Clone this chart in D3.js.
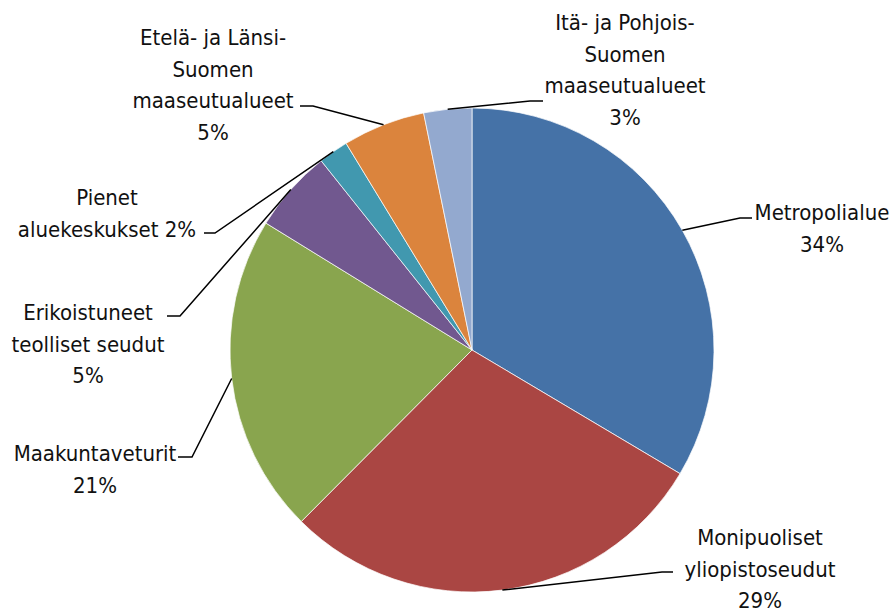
<!DOCTYPE html>
<html>
<head>
<meta charset="utf-8">
<script src="https://cdn.jsdelivr.net/npm/d3@7"></script>
<style>
  body { margin: 0; background: #fff; }
  text { font-family: "Liberation Sans Narrow", "DejaVu Sans Condensed", "Roboto", sans-serif; font-size: 22px; fill: #111; }
</style>
</head>
<body>
<div id="chart"></div>
<script>
// data
var categories = [
  "Metropolialue",
  "Monipuoliset\nyliopistoseudut",
  "Maakuntaveturit",
  "Erikoistuneet\nteolliset seudut",
  "Pienet\naluekeskukset",
  "Etelä- ja Länsi-\nSuomen\nmaaseutualueet",
  "Itä- ja Pohjois-\nSuomen\nmaaseutualueet"
];
var values = [33.5, 28.9, 21.3, 5.5, 2.0, 5.5, 3.2];
var percentLabels = ["34%", "29%", "21%", "5%", "2%", "5%", "3%"];
// whether the percent sits on the last text line
var inlinePct = [false, false, false, false, true, false, false];

var colors = ["#4572A7", "#AA4643", "#89A54E", "#71588F", "#4198AF", "#DB843D", "#93A9CF"];

// label layout: text centre x, first line y, elbow, end of leader
var labelLayout = [
  { cx: 822, y: 212, elbow: [740, 218], end: [752, 218] },
  { cx: 760, y: 537, elbow: [662, 572], end: [673, 572] },
  { cx: 95,  y: 453, elbow: [192, 457], end: [178, 457] },
  { cx: 88,  y: 312, elbow: [180, 316], end: [167, 316] },
  { cx: 107, y: 197, elbow: [215, 233], end: [204, 233] },
  { cx: 213, y: 37,  elbow: [313, 106], end: [300, 106] },
  { cx: 625, y: 22,  elbow: [530, 101], end: [543, 101] }
];

var width = 894, height = 615;
var cx = 472, cy = 350, radius = 242;
var lineH = 31.5;

var svg = d3.select('#chart').append('svg')
  .attr('width', width)
  .attr('height', height);

var pie = d3.pie().sort(null).value(function(d) { return d; });
var arcs = pie(values);

var arc = d3.arc().innerRadius(0).outerRadius(radius);

var g = svg.append('g').attr('transform', 'translate(' + cx + ',' + cy + ')');

g.selectAll('path.slice').data(arcs)
  .enter().append('path')
  .attr('class', 'slice')
  .attr('d', arc)
  .attr('fill', function(d, i) { return colors[i]; })
  .attr('stroke', '#fff')
  .attr('stroke-width', 0.7);

// leader lines
svg.selectAll('polyline.leader').data(arcs)
  .enter().append('polyline')
  .attr('class', 'leader')
  .attr('fill', 'none')
  .attr('stroke', '#000')
  .attr('stroke-width', 1.5)
  .attr('points', function(d, i) {
    var a = (d.startAngle + d.endAngle) / 2;
    var p0 = [cx + radius * Math.sin(a), cy - radius * Math.cos(a)];
    var L = labelLayout[i];
    return [p0, L.elbow, L.end].map(function(p) { return p.join(','); }).join(' ');
  });

// labels
var labels = svg.selectAll('text.label').data(arcs)
  .enter().append('text')
  .attr('class', 'label')
  .attr('text-anchor', 'middle');

labels.each(function(d, i) {
  var lines = categories[i].split('\n');
  if (inlinePct[i]) lines[lines.length - 1] += ' ' + percentLabels[i];
  else lines.push(percentLabels[i]);
  var L = labelLayout[i];
  var t = d3.select(this);
  lines.forEach(function(s, k) {
    t.append('tspan')
      .attr('x', L.cx)
      .attr('y', L.y + k * lineH + 8)
      .text(s);
  });
});
</script>
</body>
</html>
